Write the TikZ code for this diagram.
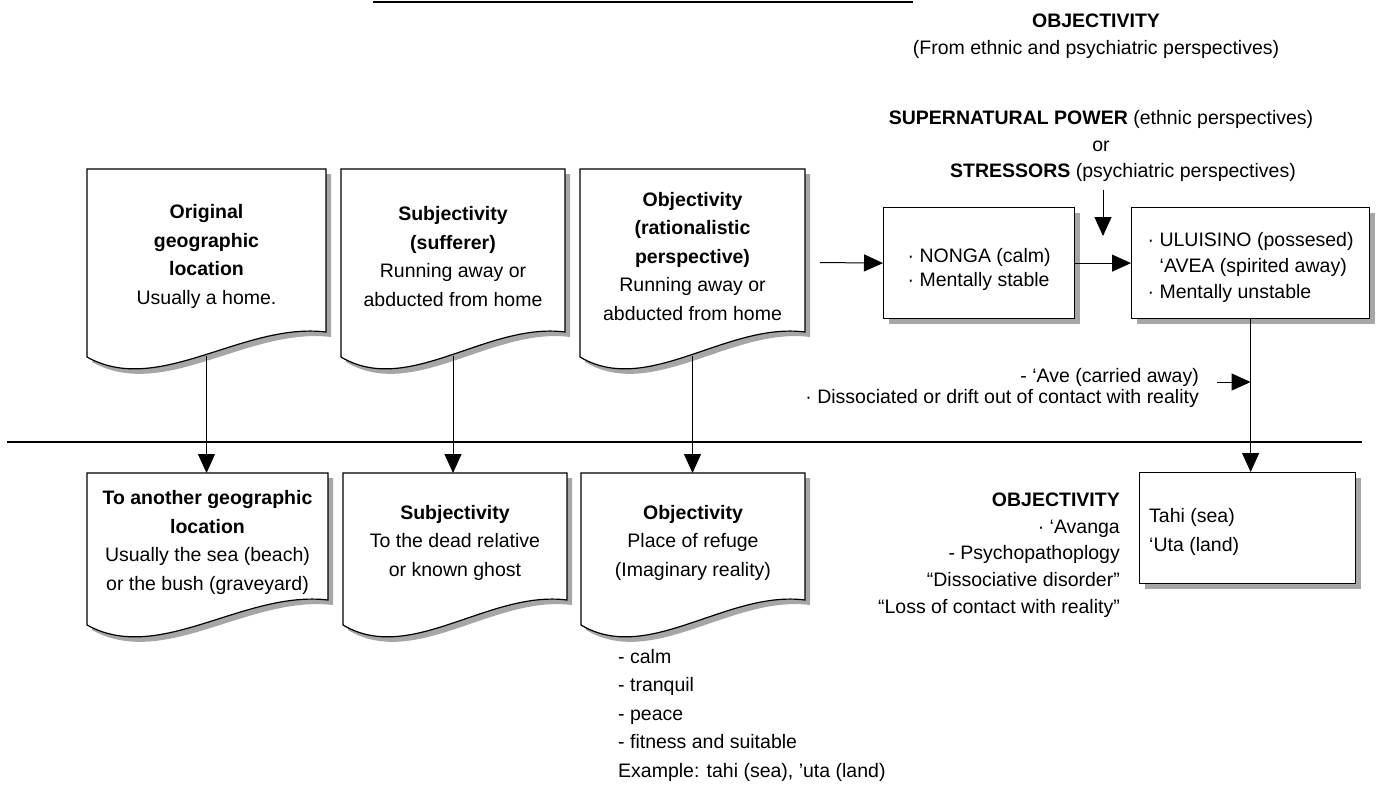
\documentclass[tikz,border=0pt]{standalone}
\usepackage{fontspec}
\setmainfont{Liberation Sans}
\usetikzlibrary{arrows.meta,shadows}
\tikzset{>={Triangle[length=19pt,width=17pt]},
  box/.style={draw,line width=1.2pt,fill=white,
    drop shadow={shadow xshift=5pt,shadow yshift=-5pt,fill=black!35,opacity=1}},
  txt/.style={font=\fontsize{19.5}{28.5}\selectfont,inner sep=0pt},
  doctxt/.style={txt,align=center},
  link/.style={->,line width=1pt}}
% name, x, y, width, height, text
\newcommand{\docbox}[6]{%
  \draw[box] (#2,#3) -- ++(#4,0) -- ++(0,#5)
    .. controls ({#2+0.65*#4},{#3+#5-10}) and ({#2+0.3*#4},{#3+#5+65}) .. ({#2},{#3+#5+25}) -- cycle;
  \node[doctxt] (#1) at ({#2+#4/2},{#3+#5/2+6}) {#6};
  \coordinate (#1-in) at ({#2+#4/2},#3);
  \coordinate (#1-out) at ({#2+#4/2},{#3+#5+24});}

\begin{document}
\begin{tikzpicture}[x=1pt,y=-1pt]
  \useasboundingbox (0,0) rectangle (1383,785);
  \draw[line width=2.5pt] (373,2) -- (913,2);

  \docbox{orig}{87}{169}{239}{163}{\textbf{Original}\\\textbf{geographic}\\\textbf{location}\\Usually a home.}
  \docbox{subj}{341}{169}{224}{163}{\textbf{Subjectivity}\\\textbf{(sufferer)}\\Running away or\\abducted from home}
  \docbox{obj}{580}{169}{225}{163}{\textbf{Objectivity}\\\textbf{(rationalistic}\\\textbf{perspective)}\\Running away or\\abducted from home}

  \docbox{dest}{87}{473}{241}{127}{\textbf{To another geographic}\\\textbf{location}\\Usually the sea (beach)\\or the bush (graveyard)}
  \docbox{ghost}{343}{473}{224}{127}{\textbf{Subjectivity}\\To the dead relative\\or known ghost}
  \docbox{refuge}{581}{473}{224}{127}{\textbf{Objectivity}\\Place of refuge\\(Imaginary reality)}

  \draw[line width=1.3pt] (7,442) -- (1362,442);
  \foreach \a/\b in {orig/dest,subj/ghost,obj/refuge}
    \draw[link] (\a-out) -- (\a-out |- \b-in);

  \node[txt,align=center,font=\fontsize{19.5}{27}\selectfont] (objtitle) at (1096,36)
    {\textbf{OBJECTIVITY}\\(From ethnic and psychiatric perspectives)};
  \node[txt,align=center,font=\fontsize{19.5}{26.5}\selectfont] (power) at (1101,146)
    {\textbf{SUPERNATURAL POWER} (ethnic perspectives)\\or\\\hspace*{44pt}\textbf{STRESSORS} (psychiatric perspectives)};

  \node[box,minimum width=191pt,minimum height=111pt,anchor=north west] (nonga) at (883,207) {};
  \node[box,minimum width=238pt,minimum height=111pt,anchor=north west] (ulu) at (1131,207) {};
  \node[box,minimum width=216pt,minimum height=111pt,anchor=north west] (tahi) at (1139,472) {};
  \node[txt,align=left,font=\fontsize{19.5}{24}\selectfont,yshift=-6pt] (nonga-txt) at (nonga.center)
    {· NONGA (calm)\\· Mentally stable};
  \node[txt,align=left,font=\fontsize{19.5}{26}\selectfont,yshift=-4pt] (ulu-txt) at (ulu.center)
    {· ULUISINO (possesed)\\\hspace*{12pt}‘AVEA (spirited away)\\· Mentally unstable};
  \node[txt,align=left,anchor=west,yshift=-4pt] (tahi-txt) at ([xshift=10pt]tahi.west)
    {Tahi (sea)\\‘Uta (land)};

  \coordinate (in) at (820,262.5);
  \coordinate (tip) at (1103,236);
  \coordinate (drift) at (1217,382);
  \draw[link] (in) -- (nonga.west);
  \draw[link] (nonga.east) -- (ulu.west);
  \draw[link,shorten <=8pt] (power.south -| tip) -- (tip);
  \draw[link] (ulu.south) -- (ulu.south |- tahi.north);
  \draw[link] (drift) -- (drift -| ulu.south);

  \node[txt,align=right,anchor=east,font=\fontsize{19.5}{21.5}\selectfont] (carried) at (1199,388)
    {- ‘Ave (carried away)\\· Dissociated or drift out of contact with reality};
  \node[txt,align=right,anchor=east,font=\fontsize{19.5}{26.7}\selectfont] (psy) at (1120,555)
    {\textbf{OBJECTIVITY}\\· ‘Avanga\\- Psychopathoplogy\\“Dissociative disorder”\\“Loss of contact with reality”};
  \node[txt,align=left,anchor=north west] (calm) at (618,649)
    {- calm\\- tranquil\\- peace\\- fitness and suitable\\Example: tahi (sea), 'uta (land)};
\end{tikzpicture}
\end{document}
